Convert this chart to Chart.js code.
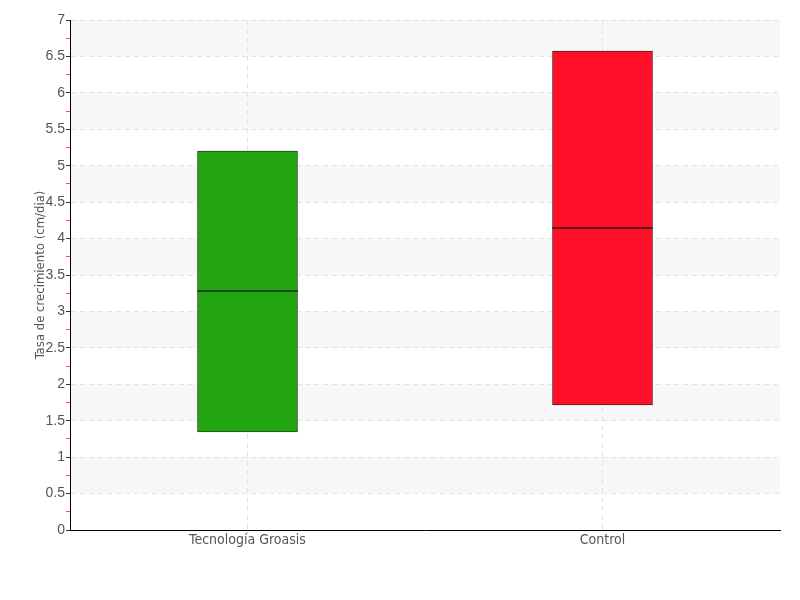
<!DOCTYPE html>
<html>
<head>
<meta charset="utf-8">
<script src="https://cdn.jsdelivr.net/npm/chart.js@4.4.1/dist/chart.umd.min.js"></script>
<style>
html,body{margin:0;padding:0;background:#fff;}
#wrap{width:800px;height:600px;}
</style>
</head>
<body>
<div id="wrap"><canvas id="c" width="800" height="600"></canvas></div>
<script>
const categories = ["Tecnología Groasis", "Control"];
const boxLow = [1.345, 1.716];
const boxHigh = [5.20, 6.575];
const medians = [3.28, 4.145];
const fillColors = ["#22a510", "#ff0f28"];
const edgeColors = ["#1d4d12", "#5a1a20"];
const yTitle = "Tasa de crecimiento (cm/dia)";
const yMin = 0, yMax = 7;

const FONT = '"Liberation Sans Narrow", "DejaVu Sans Condensed", "Roboto", sans-serif';
const TICKFONT = '"Liberation Sans", "Arial", sans-serif';
const MEDIAN_HALF = 0.009;

const isMajor = v => Math.abs(v * 2 - Math.round(v * 2)) < 1e-6;

const bandPlugin = {
  id: 'bands',
  beforeDraw(chart) {
    const {ctx, chartArea} = chart;
    const y = chart.scales.y;
    ctx.save();
    ctx.fillStyle = '#f7f7f7';
    for (let v = 0.5; v < yMax; v += 1) {
      const top = y.getPixelForValue(Math.min(v + 0.5, yMax));
      const bot = y.getPixelForValue(v);
      ctx.fillRect(chartArea.left, top, chartArea.right - chartArea.left, bot - top);
    }
    ctx.restore();
  }
};

new Chart(document.getElementById('c'), {
  type: 'bar',
  data: {
    labels: categories,
    datasets: [
      {
        data: categories.map((_, i) => [boxLow[i], boxHigh[i]]),
        backgroundColor: fillColors,
        borderColor: edgeColors,
        borderWidth: 1,
        borderSkipped: false,
        barThickness: 100,
        grouped: false,
        order: 2
      },
      {
        data: medians.map(m => [m - MEDIAN_HALF, m + MEDIAN_HALF]),
        backgroundColor: edgeColors,
        borderWidth: 0,
        barThickness: 100,
        grouped: false,
        order: 1
      }
    ]
  },
  options: {
    responsive: false,
    animation: false,
    events: [],
    layout: { padding: { top: 20, right: 20, left: 30, bottom: 0 } },
    plugins: { legend: { display: false }, tooltip: { enabled: false } },
    scales: {
      x: {
        offset: true,
        grid: {
          offset: false,
          color: '#e2e2e2',
          tickColor: '#444',
          tickLength: 1
        },
        border: { display: true, color: '#000', width: 1, dash: [5, 4] },
        ticks: { color: '#555', font: { family: FONT, size: 14 }, padding: 1 },
        afterFit(s) { s.height = 70; }
      },
      y: {
        min: yMin,
        max: yMax,
        grid: {
          color: ctx => (ctx.tick && isMajor(ctx.tick.value)) ? '#e2e2e2' : 'rgba(0,0,0,0)',
          tickColor: ctx => (ctx.tick && isMajor(ctx.tick.value)) ? '#333' : '#ff5050',
          tickLength: 4
        },
        border: { display: true, color: '#000', width: 1, dash: [5, 4] },
        ticks: {
          stepSize: 0.25,
          autoSkip: false,
          color: '#555',
          padding: 1,
          font: { family: TICKFONT, size: 14 },
          callback: v => isMajor(v) ? String(v) : ''
        },
        title: {
          display: true,
          text: yTitle,
          color: '#555',
          font: { family: FONT, size: 13 },
          padding: { top: 3, bottom: 2 }
        },
        afterFit(s) { s.width = 40; }
      }
    }
  },
  plugins: [bandPlugin]
});
</script>
</body>
</html>
